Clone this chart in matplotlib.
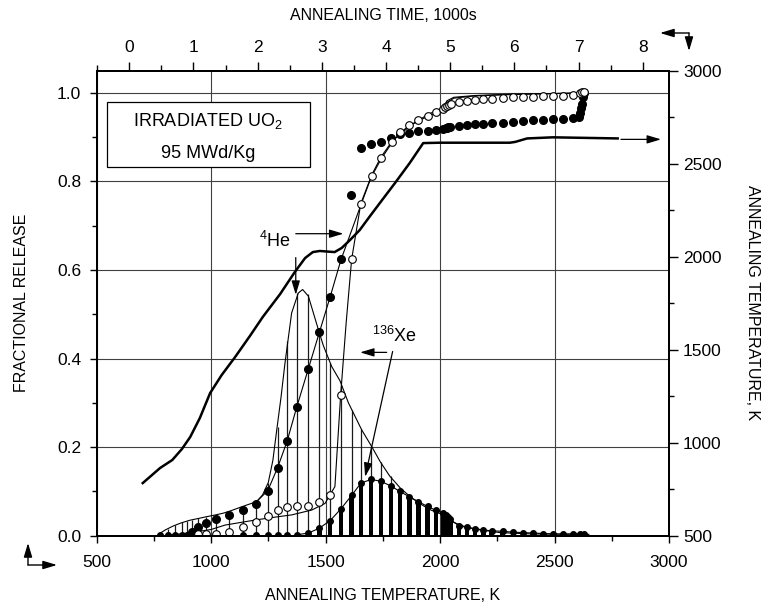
import matplotlib.pyplot as plt
from matplotlib.patches import Rectangle
from matplotlib.ticker import MultipleLocator

plt.rcParams['font.family'] = ['Liberation Sans', 'DejaVu Sans']
plt.rcParams['mathtext.fontset'] = 'custom'
plt.rcParams['mathtext.rm'] = 'Liberation Sans'

# annealing steps, K
step_T = [777, 814, 843, 872, 894, 916, 945, 978, 1022, 1080, 1141, 1197, 1248, 1291, 1332,
          1374, 1425, 1473, 1520, 1568, 1614, 1655, 1699, 1742, 1786, 1825, 1866, 1905, 1946,
          1983, 2015, 2025, 2035, 2045, 2083, 2117, 2153, 2189, 2226, 2274, 2320, 2364, 2407,
          2451, 2492, 2536, 2582, 2611, 2629]
# He release per step (thin lines)
he_step = [0.003, 0.015, 0.024, 0.030, 0.033, 0.036, 0.039, 0.043, 0.046, 0.053, 0.066, 0.077,
           0.120, 0.245, 0.440, 0.549, 0.545, 0.470, 0.390, 0.340, 0.285, 0.240, 0.203, 0.166,
           0.135, 0.108, 0.090, 0.074, 0.063, 0.054, 0.047, 0.044, 0.041, 0.036, 0.024, 0.020,
           0.017, 0.014, 0.012, 0.011, 0.009, 0.008, 0.007, 0.006, 0.006, 0.005, 0.005, 0.005,
           0.005]
# Xe release per step (black bars)
xe_step = [0.002, 0.002, 0.002, 0.002, 0.002, 0.002, 0.002, 0.002, 0.002, 0.002, 0.002, 0.002,
           0.002, 0.002, 0.002, 0.002, 0.006, 0.017, 0.034, 0.061, 0.091, 0.119, 0.127, 0.123,
           0.112, 0.100, 0.088, 0.077, 0.066, 0.057, 0.051, 0.047, 0.043, 0.037, 0.022, 0.019,
           0.016, 0.013, 0.011, 0.010, 0.008, 0.007, 0.006, 0.005, 0.004, 0.004, 0.004, 0.004,
           0.004]

# He peak curve
he_curve_T = [1199, 1225, 1250, 1270, 1287, 1305, 1323, 1352, 1381, 1400, 1425, 1469, 1490, 1527,
              1563, 1600, 1658, 1702, 1739, 1780, 1826, 1870, 1913, 1960, 2000, 2029, 2060, 2100,
              2150, 2262, 2400, 2650]
he_curve = [0.077, 0.092, 0.120, 0.170, 0.239, 0.310, 0.390, 0.503, 0.548, 0.556, 0.541, 0.465,
            0.430, 0.382, 0.350, 0.300, 0.239, 0.201, 0.167, 0.135, 0.108, 0.088, 0.072, 0.058,
            0.050, 0.040, 0.030, 0.022, 0.015, 0.007, 0.004, 0.003]

# cumulative He (filled circles)
he_cum_T = [916, 945, 978, 1022, 1080, 1141, 1197, 1248, 1291, 1332, 1374, 1425, 1473, 1520, 1568,
            1611, 1655, 1699, 1742, 1786, 1825, 1866, 1905, 1946, 1983, 2015, 2024, 2030, 2036,
            2042, 2083, 2117, 2153, 2189, 2226, 2274, 2320, 2364, 2407, 2451, 2492, 2536, 2582,
            2608, 2612, 2615, 2620, 2626, 2630]
he_cum = [0.009, 0.020, 0.029, 0.038, 0.047, 0.057, 0.072, 0.102, 0.154, 0.213, 0.290, 0.377,
          0.459, 0.539, 0.624, 0.769, 0.875, 0.884, 0.890, 0.899, 0.907, 0.910, 0.913, 0.914,
          0.916, 0.918, 0.920, 0.921, 0.922, 0.923, 0.925, 0.927, 0.929, 0.929, 0.931, 0.933,
          0.934, 0.936, 0.938, 0.939, 0.940, 0.942, 0.943, 0.945, 0.955, 0.965, 0.975, 0.990,
          1.000]
# cumulative Xe (open circles)
xe_cum_T = [945, 978, 1022, 1080, 1141, 1197, 1248, 1291, 1332, 1374, 1425, 1473, 1520, 1568,
            1614, 1654, 1702, 1742, 1789, 1825, 1866, 1905, 1946, 1983, 2015, 2022, 2030, 2038,
            2046, 2084, 2117, 2153, 2189, 2226, 2274, 2320, 2364, 2407, 2451, 2492, 2536, 2582,
            2611, 2620, 2629]
xe_cum = [0.005, 0.005, 0.005, 0.009, 0.019, 0.032, 0.045, 0.058, 0.064, 0.067, 0.068, 0.077,
          0.092, 0.317, 0.624, 0.750, 0.812, 0.852, 0.888, 0.912, 0.928, 0.939, 0.948, 0.956,
          0.963, 0.967, 0.970, 0.973, 0.976, 0.980, 0.981, 0.983, 0.986, 0.987, 0.989, 0.990,
          0.990, 0.991, 0.992, 0.993, 0.993, 0.995, 1.000, 1.002, 1.002]

# fitted curves (thin lines)
he_fit_T = [770, 800, 835, 870, 908, 945, 981, 1020, 1054, 1090, 1127, 1160, 1199, 1248, 1291,
            1332, 1374, 1425, 1473, 1520, 1568, 1658, 1700, 1742, 1800, 1880, 1950, 2015, 2030,
            2060, 2150, 2300, 2450, 2630]
he_fit = [0.003, 0.013, 0.022, 0.029, 0.035, 0.039, 0.043, 0.047, 0.051, 0.057, 0.064, 0.070,
          0.077, 0.102, 0.154, 0.213, 0.290, 0.377, 0.459, 0.539, 0.624, 0.752, 0.810, 0.850,
          0.895, 0.930, 0.952, 0.967, 0.982, 0.990, 0.994, 0.997, 0.998, 1.000]
xe_fit_T = [800, 900, 1000, 1061, 1130, 1200, 1280, 1352, 1440, 1498, 1541, 1566, 1590, 1614, 1654,
            1702, 1742, 1790, 1850, 1900, 1950, 2000, 2015, 2030, 2060, 2150, 2300, 2450, 2630]
xe_fit = [0.000, 0.006, 0.014, 0.024, 0.030, 0.036, 0.042, 0.047, 0.058, 0.073, 0.111, 0.317,
          0.480, 0.624, 0.750, 0.815, 0.855, 0.890, 0.920, 0.935, 0.948, 0.958, 0.963, 0.978,
          0.988, 0.993, 0.996, 0.998, 1.000]

# annealing temperature history
time_ks = [0.21, 0.48, 0.67, 0.82, 0.95, 1.10, 1.26, 1.44, 1.65, 1.88, 2.08, 2.35, 2.58, 2.74,
           2.86, 2.97, 3.08, 3.20, 3.31, 3.44, 3.59, 3.75, 3.94, 4.14, 4.37, 4.58, 4.84, 5.93,
           6.01, 6.20, 6.60, 7.61]
temp_K = [783, 864, 907, 966, 1031, 1133, 1267, 1364, 1461, 1574, 1676, 1799, 1918, 1993, 2025,
          2031, 2028, 2025, 2047, 2090, 2143, 2218, 2305, 2396, 2504, 2611, 2613, 2613, 2617,
          2636, 2642, 2636]

fig = plt.figure(figsize=(7.68, 6.14), dpi=100)
ax = fig.add_axes([0.1257, 0.1275, 0.7454, 0.7573])
ax.set_xlim(500, 3000)
ax.set_ylim(0, 1.05)
ax.xaxis.set_major_locator(MultipleLocator(500))
ax.xaxis.set_minor_locator(MultipleLocator(250))
ax.yaxis.set_major_locator(MultipleLocator(0.2))
ax.yaxis.set_minor_locator(MultipleLocator(0.1))
ax.yaxis.set_major_formatter(lambda v, p: f"{v:.1f}")
ax.grid(True, which='major', color='0.25', lw=0.8)
ax.set_axisbelow(True)
ax.tick_params(which='major', direction='out', length=5, width=1, labelsize=12.5)
ax.tick_params(which='minor', direction='out', length=3.5, width=1)
ax.tick_params(axis='x', pad=9)
ax.tick_params(axis='y', pad=6)

# per-step release
ax.vlines(step_T, 0, he_step, colors='0.1', lw=0.9, zorder=2)
ax.bar(step_T, xe_step, width=20, color='black', zorder=3)
ax.plot(step_T, xe_step, 'o', color='black', ms=4, zorder=4)
ax.plot(step_T[15:], xe_step[15:], '-', color='black', lw=0.8, zorder=4)
ax.plot(he_curve_T, he_curve, '-', color='black', lw=0.8, zorder=4)

# cumulative release
ax.plot(he_fit_T, he_fit, '-', color='black', lw=0.8, zorder=4)
ax.plot(xe_fit_T, xe_fit, '-', color='black', lw=0.8, zorder=4)
ax.plot(he_cum_T, he_cum, 'o', color='black', ms=5.5, zorder=5)
ax.plot(xe_cum_T, xe_cum, 'o', mfc='white', mec='black', mew=0.8, ms=5.5, zorder=5)

# label box
ax.add_patch(Rectangle((544, 0.833), 888, 0.147, facecolor='white', edgecolor='black',
                       lw=0.9, zorder=6))
ax.text(988, 0.937, r"IRRADIATED UO$_\mathregular{2}$", ha='center', va='center', fontsize=13, zorder=7)
ax.text(988, 0.864, "95 MWd/Kg", ha='center', va='center', fontsize=13, zorder=7)

arrow = dict(arrowstyle='-|>,head_length=0.6,head_width=0.18', color='black', lw=0.9,
             mutation_scale=14, shrinkA=0, shrinkB=0)
ax.text(1279, 0.665, r"$^\mathregular{4}$He", ha='center', va='center', fontsize=13)
ax.annotate('', xy=(1578, 0.682), xytext=(1370, 0.682), arrowprops=arrow)
ax.annotate('', xy=(1370, 0.544), xytext=(1370, 0.628), arrowprops=arrow)
ax.text(1801, 0.452, r"$^\mathregular{136}$Xe", ha='center', va='center', fontsize=13)
ax.annotate('', xy=(1651, 0.414), xytext=(1767, 0.414), arrowprops=arrow)
ax.annotate('', xy=(1673, 0.133), xytext=(1793, 0.416), arrowprops=arrow)
ax.annotate('', xy=(2965, 0.895), xytext=(2790, 0.895), arrowprops=arrow)

# right axis: temperature, top axis: time
axr = ax.twinx()
axr.set_ylim(500, 3000)
axr.yaxis.set_major_locator(MultipleLocator(500))
axr.yaxis.set_minor_locator(MultipleLocator(250))
axr.tick_params(which='major', direction='out', length=6.5, width=1, labelsize=12.5, pad=3.5)
axr.tick_params(which='minor', direction='out', length=3.5, width=1)

axt = axr.twiny()
axt.set_xlim(-0.51, 8.41)
axt.xaxis.set_major_locator(MultipleLocator(1))
axt.xaxis.set_minor_locator(MultipleLocator(0.5))
axt.tick_params(which='major', direction='out', length=6.5, width=1, labelsize=12.5, pad=5)
axt.tick_params(which='minor', direction='out', length=4, width=1)
axt.plot(time_ks, temp_K, '-', color='black', lw=1.8)

for a in (ax, axr, axt):
    for s in a.spines.values():
        s.set_linewidth(1.4)

fig.text(383 / 768, 1 - 596 / 614, "ANNEALING TEMPERATURE, K", ha='center', va='center', fontsize=11.5)
fig.text(383 / 768, 1 - 15 / 614, "ANNEALING TIME, 1000s", ha='center', va='center', fontsize=11.5)
fig.text(22 / 768, 1 - 303 / 614, "FRACTIONAL RELEASE", ha='center', va='center',
         rotation=90, fontsize=11.5)
fig.text(752 / 768, 1 - 303 / 614, "ANNEALING TEMPERATURE, K", ha='center', va='center',
         rotation=-90, fontsize=11.5)

# axis-assignment arrows outside the frame
edge = dict(arrowstyle='-|>,head_length=0.6,head_width=0.18', color='black', lw=1.0,
            mutation_scale=14, shrinkA=0, shrinkB=0)
for xy, xytext in [((660, 581), (689, 581)), ((689, 563), (689, 581)),
                   ((28, 71), (28, 49)), ((57, 49), (28, 49))]:
    ax.annotate('', xy=xy, xycoords='figure pixels', xytext=xytext,
                textcoords='figure pixels', arrowprops=edge, annotation_clip=False)

fig.savefig("out.png", dpi=100)
